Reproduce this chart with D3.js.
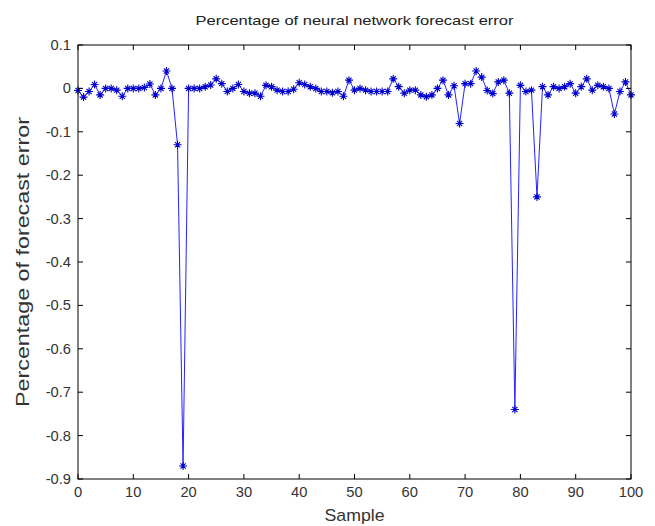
<!DOCTYPE html>
<html><head><meta charset="utf-8">
<script src="https://cdn.jsdelivr.net/npm/d3@7"></script>
<style>body{margin:0;background:#fff}svg{display:block}</style>
</head><body>
<svg id="c" width="655" height="526"></svg>
<script>
const title = "Percentage of neural network forecast error";
const xLabel = "Sample";
const yLabel = "Percentage of forecast error";
const xTicks = [0,10,20,30,40,50,60,70,80,90,100];
const yTicks = [0.1,0,-0.1,-0.2,-0.3,-0.4,-0.5,-0.6,-0.7,-0.8,-0.9];
const samples = d3.range(0, 101);
const errors = [
 -0.005,-0.02,-0.007,0.009,-0.015,0.0,0.0,-0.004,-0.018,0.0,
 0.0,0.0,0.002,0.01,-0.015,0.0,0.04,0.0,-0.13,-0.87,
 0.0,0.0,0.0,0.004,0.008,0.022,0.011,-0.007,0.0,0.009,
 -0.007,-0.011,-0.011,-0.018,0.007,0.004,-0.004,-0.007,-0.007,-0.002,
 0.013,0.009,0.004,0.0,-0.007,-0.007,-0.01,-0.007,-0.018,0.019,
 -0.004,0.0,-0.004,-0.007,-0.007,-0.007,-0.007,0.022,0.004,-0.011,
 -0.004,-0.004,-0.015,-0.019,-0.015,0.0,0.019,-0.015,0.006,-0.081,
 0.011,0.011,0.04,0.026,-0.005,-0.012,0.015,0.019,-0.011,-0.74,
 0.007,-0.007,-0.004,-0.25,0.004,-0.015,0.004,0.0,0.004,0.011,
 -0.011,0.004,0.022,-0.004,0.007,0.004,0.0,-0.059,-0.007,0.015,
 -0.015
];

const L = 78, R = 631, T = 45, B = 479;
const svg = d3.select("#c");
const x = d3.scaleLinear().domain([0,100]).range([L,R]);
const y = d3.scaleLinear().domain([-0.9,0.1]).range([B,T]);
const font = "'Liberation Sans', Arial, sans-serif";

// data line
const data = samples.map((s,i)=>[s, errors[i]]);
svg.append("path").datum(data)
  .attr("fill","none").attr("stroke","#2424ff").attr("stroke-width",1)
  .attr("d", d3.line().x(d=>x(d[0])).y(d=>y(d[1])));

// asterisk markers
const m = 4, md = 2.6;
const g = svg.append("g").attr("stroke","#0000cc").attr("stroke-width",1.1);
data.forEach(d=>{
  const cx = x(d[0]), cy = y(d[1]);
  g.append("path").attr("d",
    `M${cx-m},${cy}H${cx+m}M${cx},${cy-m}V${cy+m}` +
    `M${cx-md},${cy-md}L${cx+md},${cy+md}M${cx-md},${cy+md}L${cx+md},${cy-md}`);
});

// box
svg.append("rect").attr("x",L).attr("y",T).attr("width",R-L).attr("height",B-T)
  .attr("fill","none").attr("stroke","#000").attr("stroke-width",1);

// ticks
const tl = 5;
const tk = svg.append("g").attr("stroke","#000").attr("stroke-width",1);
xTicks.forEach(t=>{
  tk.append("line").attr("x1",x(t)).attr("x2",x(t)).attr("y1",B).attr("y2",B-tl);
  tk.append("line").attr("x1",x(t)).attr("x2",x(t)).attr("y1",T).attr("y2",T+tl);
});
yTicks.forEach(t=>{
  tk.append("line").attr("x1",L).attr("x2",L+tl).attr("y1",y(t)).attr("y2",y(t));
  tk.append("line").attr("x1",R).attr("x2",R-tl).attr("y1",y(t)).attr("y2",y(t));
});

function stretch(sel, k){
  sel.each(function(){
    const w = this.getComputedTextLength();
    d3.select(this).attr("textLength", w*k).attr("lengthAdjust","spacingAndGlyphs");
  });
}

// tick labels
const fmt = v => v === 0 ? "0" : d3.format(".1f")(v).replace("−","-");
svg.append("g").selectAll("text").data(xTicks).join("text")
  .attr("x",d=>x(d)).attr("y",B+18).attr("text-anchor","middle")
  .attr("font-family",font).attr("font-size",14).attr("fill","#333")
  .text(d=>d).call(stretch, 1.05);
svg.append("g").selectAll("text").data(yTicks).join("text")
  .attr("x",L-7).attr("y",d=>y(d)+5).attr("text-anchor","end")
  .attr("font-family",font).attr("font-size",14).attr("fill","#333")
  .text(fmt).call(stretch, 1.05);

// title & labels
svg.append("text").attr("x",(L+R)/2).attr("y",25).attr("text-anchor","middle")
  .attr("font-family",font).attr("font-size",13).attr("fill","#222")
  .attr("textLength",318).attr("lengthAdjust","spacingAndGlyphs").text(title);
svg.append("text").attr("x",(L+R)/2).attr("y",521).attr("text-anchor","middle")
  .attr("font-family",font).attr("font-size",17).attr("fill","#333")
  .attr("textLength",60).attr("lengthAdjust","spacingAndGlyphs").text(xLabel);
svg.append("text").attr("transform",`translate(29,${(T+B)/2}) rotate(-90)`)
  .attr("text-anchor","middle")
  .attr("font-family",font).attr("font-size",18).attr("fill","#333")
  .attr("textLength",290).attr("lengthAdjust","spacingAndGlyphs").text(yLabel);
</script>
</body></html>
